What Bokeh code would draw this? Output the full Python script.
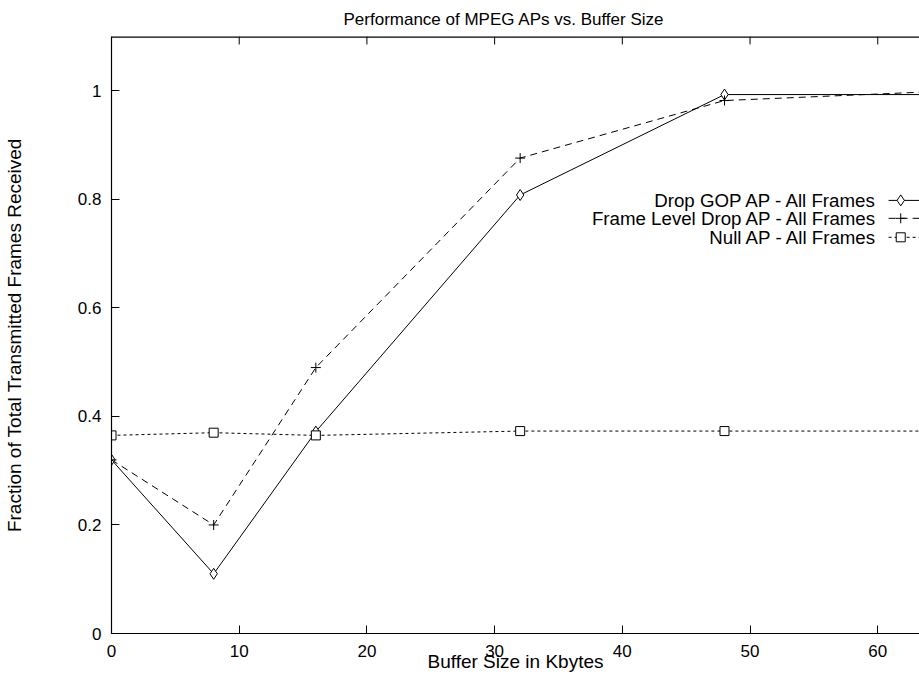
from bokeh.plotting import figure
from bokeh.models import Range1d, LinearAxis, FixedTicker, Span, Title
from bokeh.core.properties import value
from bokeh.embed import file_html
from bokeh.resources import INLINE

buffer_kb = [0, 8, 16, 32, 48, 64]
drop_gop = [0.32, 0.11, 0.372, 0.808, 0.993, 0.993]
frame_level = [0.32, 0.20, 0.49, 0.876, 0.982, 0.998]
null_ap = [0.365, 0.370, 0.365, 0.373, 0.373, 0.373]
series_names = ["Drop GOP AP - All Frames", "Frame Level Drop AP - All Frames", "Null AP - All Frames"]
x_ticks = [0, 10, 20, 30, 40, 50, 60]
y_ticks = [0, 0.2, 0.4, 0.6, 0.8, 1.0]
y_tick_labels = {0: "0", 0.2: "0.2", 0.4: "0.4", 0.6: "0.6", 0.8: "0.8", 1.0: "1"}

FONT = "Liberation Sans"
X_MAX = 63.27
Y_MAX = 1.1

p = figure(width=919, height=679, output_backend="svg", toolbar_location=None,
           x_range=Range1d(0, X_MAX), y_range=Range1d(0, Y_MAX),
           min_border_left=111, min_border_right=0, min_border_top=36, min_border_bottom=46,
           x_axis_location=None, y_axis_location=None)
p.outline_line_color = None
p.grid.visible = False
p.background_fill_color = "white"
p.border_fill_color = "white"

p.title = Title(text="Performance of MPEG APs vs. Buffer Size", align="left", offset=232,
                text_font=FONT, text_font_size="17px", text_font_style="normal", text_color="black",
                standoff=15)

def style_axis(ax):
    ax.major_tick_in = 8
    ax.major_tick_out = 0
    ax.minor_tick_in = 0
    ax.minor_tick_out = 0
    ax.axis_line_color = "black"
    ax.axis_line_width = 1.2
    ax.major_tick_line_color = "black"
    ax.major_label_text_font = FONT
    ax.major_label_text_font_size = "17px"
    ax.major_label_text_color = "black"
    ax.axis_label_text_font = FONT
    ax.axis_label_text_font_size = "19px"
    ax.axis_label_text_font_style = "normal"
    ax.axis_label_text_color = "black"

xb = LinearAxis(ticker=FixedTicker(ticks=x_ticks))
style_axis(xb)
xb.major_label_standoff = 11
xb.axis_label = "Buffer Size in Kbytes"
xb.axis_label_standoff = -9
p.add_layout(xb, "below")

yl = LinearAxis(ticker=FixedTicker(ticks=y_ticks))
style_axis(yl)
yl.major_label_overrides = y_tick_labels
yl.major_label_standoff = 10
yl.axis_label = "Fraction of Total Transmitted Frames Received"
yl.axis_label_standoff = 50
p.add_layout(yl, "left")

# top border with inward ticks
p.add_layout(Span(location=Y_MAX, dimension="width", line_color="black", line_width=2.4))
p.segment(x0=x_ticks, y0=[Y_MAX] * len(x_ticks), x1=x_ticks, y1=[Y_MAX - 0.0147] * len(x_ticks),
          line_color="black", line_width=1)

# series
p.line(buffer_kb, drop_gop, line_color="black", line_width=1)
p.scatter(buffer_kb, drop_gop, marker="diamond", size=11, line_color="black", fill_color="white", line_width=1)

p.line(buffer_kb, frame_level, line_color="black", line_width=1, line_dash="7 5")
p.scatter(buffer_kb, frame_level, marker="cross", size=10, line_color="black", line_width=1)

p.line(buffer_kb, null_ap, line_color="black", line_width=1, line_dash="3 3")
p.scatter(buffer_kb, null_ap, marker="square", size=9, line_color="black", fill_color="white", line_width=1)

# gnuplot-style key
key_y = [0.798, 0.765, 0.730]
key_text_x = 59.98
key_line_x0 = 60.85
key_line_x1 = 64.0
key_mark_x = 61.8
p.text(x=[key_text_x] * 3, y=key_y, text=series_names, text_align="right", text_baseline="middle",
       text_font=value(FONT), text_font_size="18.7px", text_color="black")
p.segment(x0=[key_line_x0], y0=[key_y[0]], x1=[key_line_x1], y1=[key_y[0]], line_color="black", line_width=1)
p.segment(x0=[key_line_x0], y0=[key_y[1]], x1=[key_line_x1], y1=[key_y[1]], line_color="black", line_width=1, line_dash="7 5")
p.segment(x0=[key_line_x0], y0=[key_y[2]], x1=[key_line_x1], y1=[key_y[2]], line_color="black", line_width=1, line_dash="3 3")
p.scatter([key_mark_x], [key_y[0]], marker="diamond", size=11, line_color="black", fill_color="white")
p.scatter([key_mark_x], [key_y[1]], marker="cross", size=10, line_color="black")
p.scatter([key_mark_x], [key_y[2]], marker="square", size=9, line_color="black", fill_color="white")

open("out.html", "w").write(file_html(p, INLINE))
